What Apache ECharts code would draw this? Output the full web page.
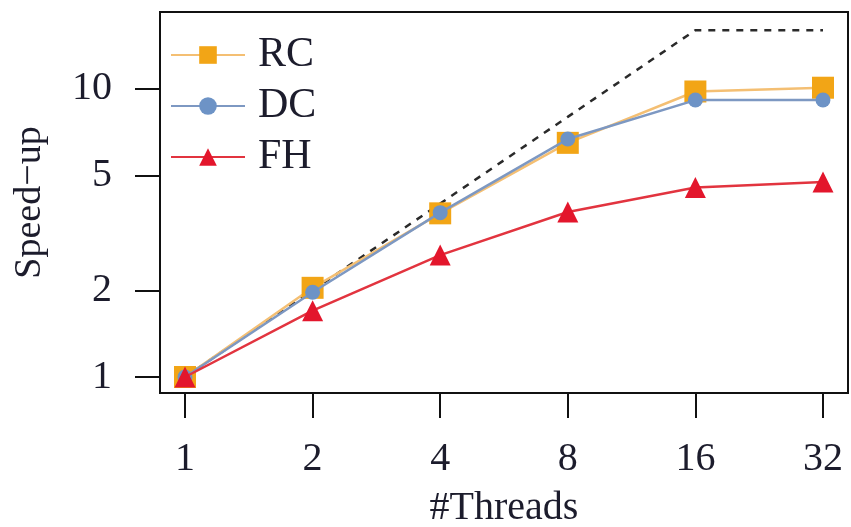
<!DOCTYPE html>
<html>
<head>
<meta charset="utf-8">
<script src="https://cdn.jsdelivr.net/npm/echarts@6/dist/echarts.min.js"></script>
<style>
html,body{margin:0;padding:0;background:#fff;}
#main{width:851px;height:527px;}
</style>
</head>
<body>
<div id="main"></div>
<script>
const threads = [1, 2, 4, 8, 16, 32];
const rc = [1.0, 2.04, 3.7, 6.5, 9.8, 10.1];
const dc = [1.0, 1.97, 3.72, 6.7, 9.15, 9.15];
const fh = [1.0, 1.7, 2.65, 3.74, 4.55, 4.75];
const ideal = [1, 2, 4, 8, 16, 16];
const yTicks = [1, 2, 5, 10];
const seriesNames = ['RC', 'DC', 'FH'];

const FONT = 'Liberation Serif';
const TXT = '#1c1c2c';

function pairs(vals) { return threads.map((t, i) => [t, vals[i]]); }

const chart = echarts.init(document.getElementById('main'), null, {renderer: 'canvas'});
chart.setOption({
  animation: false,
  backgroundColor: '#fff',
  grid: {left: 160, right: 3, top: 12, bottom: 134, show: true, borderColor: '#111', borderWidth: 2,
         backgroundColor: 'transparent', containLabel: false, outerBoundsMode: 'none'},
  legend: {
    orient: 'vertical', left: 170, top: 34, padding: 0,
    data: seriesNames,
    itemWidth: 74, itemHeight: 22, itemGap: 9,
    textStyle: {fontFamily: FONT, fontSize: 42, color: TXT, padding: [0, 0, 0, 8]}
  },
  xAxis: {
    type: 'log', logBase: 2, min: 0.873, max: 36.66,
    name: '#Threads', nameLocation: 'middle', nameGap: 95,
    nameTextStyle: {fontFamily: FONT, fontSize: 40, color: TXT},
    axisLine: {show: true, lineStyle: {color: '#111', width: 2}},
    axisTick: {show: true, length: 25, inside: false, customValues: threads, lineStyle: {color: '#111', width: 2}},
    axisLabel: {customValues: threads, fontFamily: FONT, fontSize: 40, color: TXT, margin: 46},
    splitLine: {show: false}
  },
  yAxis: {
    type: 'log', logBase: 10, min: 0.88, max: 18.5,
    name: 'Speed−up', nameLocation: 'middle', nameGap: 111, nameRotate: 90,
    nameTextStyle: {fontFamily: FONT, fontSize: 38, color: TXT},
    axisLine: {show: true, lineStyle: {color: '#111', width: 2}},
    axisTick: {show: true, length: 25, customValues: yTicks, lineStyle: {color: '#111', width: 2}},
    axisLabel: {customValues: yTicks, fontFamily: FONT, fontSize: 40, color: TXT, margin: 48},
    splitLine: {show: false}
  },
  series: [
    {
      name: 'ideal', type: 'line', data: pairs(ideal), symbol: 'none',
      lineStyle: {color: '#2a2a2a', width: 2.5, type: [7, 7]}, z: 1, silent: true
    },
    {
      name: 'RC', type: 'line', data: pairs(rc), symbol: 'rect', symbolSize: 22,
      itemStyle: {color: '#f2a516'}, lineStyle: {color: '#f4bf73', width: 2.5}, z: 3
    },
    {
      name: 'DC', type: 'line', data: pairs(dc), symbol: 'circle', symbolSize: 15,
      itemStyle: {color: '#6d93c6'}, lineStyle: {color: '#7d98c2', width: 2.5}, z: 4
    },
    {
      name: 'FH', type: 'line', data: pairs(fh), symbol: 'triangle', symbolSize: 21,
      itemStyle: {color: '#e3162c'}, lineStyle: {color: '#e2343f', width: 2.5}, z: 5
    }
  ]
});
</script>
</body>
</html>
